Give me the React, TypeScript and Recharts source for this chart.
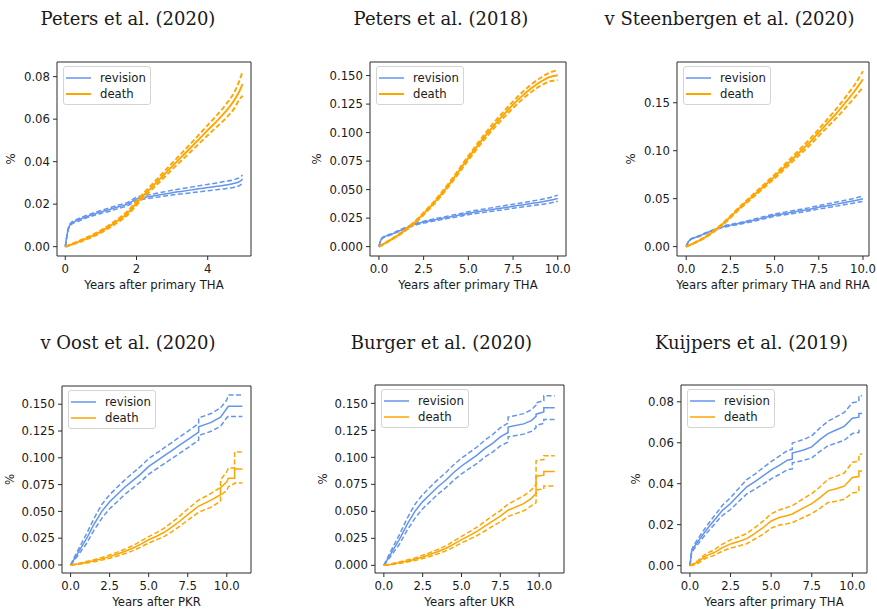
import React from "react";
import { LineChart, Line, XAxis, YAxis, Legend, ReferenceLine } from "recharts";

// ---- Peters et al. (2020) ----
const P1_X = [0, 0.05, 0.1, 0.2, 0.3, 0.5, 0.75, 1, 1.25, 1.5, 1.75, 2, 2.25, 2.5, 2.75, 3, 3.25, 3.5, 3.75, 4, 4.25, 4.5, 4.75, 4.9, 4.98];
const P1_REV = [0, 0.0055, 0.0092, 0.0113, 0.0121, 0.0135, 0.015, 0.0163, 0.0175, 0.0188, 0.02, 0.0225, 0.0233, 0.024, 0.0247, 0.0254, 0.026, 0.0266, 0.0272, 0.0278, 0.0284, 0.029, 0.0298, 0.0307, 0.0318];
const P1_REV_HI = [0, 0.0058, 0.0096, 0.0118, 0.0127, 0.0141, 0.0156, 0.017, 0.0183, 0.0196, 0.0208, 0.0233, 0.0241, 0.0249, 0.0257, 0.0265, 0.0272, 0.0279, 0.0286, 0.0293, 0.03, 0.0307, 0.0316, 0.0326, 0.0337];
const P1_REV_LO = [0, 0.0052, 0.0088, 0.0108, 0.0115, 0.0129, 0.0144, 0.0156, 0.0167, 0.018, 0.0192, 0.0217, 0.0225, 0.0231, 0.0237, 0.0243, 0.0248, 0.0253, 0.0258, 0.0263, 0.0268, 0.0273, 0.028, 0.0288, 0.0299];
const P1_DEATH = [0, 0.0003, 0.0006, 0.0012, 0.0018, 0.0032, 0.005, 0.0071, 0.0097, 0.0125, 0.0158, 0.0205, 0.025, 0.0292, 0.0335, 0.0378, 0.042, 0.0462, 0.0505, 0.0548, 0.059, 0.0635, 0.069, 0.0735, 0.0765];
const P1_DEATH_HI = [0, 0.0004, 0.0007, 0.0014, 0.0021, 0.0036, 0.0055, 0.0077, 0.0104, 0.0133, 0.0167, 0.0215, 0.0261, 0.0304, 0.0349, 0.0393, 0.0437, 0.0481, 0.0526, 0.0572, 0.0617, 0.0667, 0.0728, 0.0785, 0.0825];
const P1_DEATH_LO = [0, 0.0002, 0.0005, 0.001, 0.0015, 0.0028, 0.0045, 0.0065, 0.009, 0.0117, 0.0149, 0.0195, 0.0239, 0.028, 0.0321, 0.0363, 0.0403, 0.0443, 0.0484, 0.0524, 0.0563, 0.0603, 0.0652, 0.0695, 0.071];

// ---- Peters et al. (2018) ----
const P2_X = [0, 0.1, 0.25, 0.5, 0.75, 1, 1.5, 2, 2.5, 3, 3.5, 4, 4.5, 5, 5.5, 6, 6.5, 7, 7.5, 8, 8.5, 9, 9.5, 10];
const P2_REV = [0, 0.0055, 0.0082, 0.0098, 0.0112, 0.013, 0.0163, 0.0195, 0.0215, 0.0232, 0.0247, 0.0262, 0.0277, 0.0293, 0.0306, 0.0318, 0.033, 0.0342, 0.0354, 0.0366, 0.0378, 0.039, 0.0404, 0.0422];
const P2_REV_HI = [0, 0.0058, 0.0086, 0.0102, 0.0117, 0.0135, 0.0169, 0.0202, 0.0223, 0.0241, 0.0257, 0.0273, 0.0289, 0.0306, 0.032, 0.0333, 0.0346, 0.0359, 0.0372, 0.0385, 0.0398, 0.0412, 0.0428, 0.0452];
const P2_REV_LO = [0, 0.0052, 0.0078, 0.0094, 0.0107, 0.0125, 0.0157, 0.0188, 0.0207, 0.0223, 0.0237, 0.0251, 0.0265, 0.028, 0.0292, 0.0303, 0.0314, 0.0325, 0.0336, 0.0347, 0.0358, 0.0368, 0.038, 0.0398];
const P2_DEATH = [0, 0.0008, 0.0022, 0.0045, 0.0068, 0.0092, 0.0148, 0.0212, 0.029, 0.037, 0.0462, 0.0562, 0.0668, 0.0778, 0.0882, 0.0982, 0.1075, 0.1162, 0.1245, 0.132, 0.1387, 0.1442, 0.1485, 0.1503];
const P2_DEATH_HI = [0, 0.0009, 0.0024, 0.0048, 0.0072, 0.0097, 0.0155, 0.0221, 0.03, 0.0382, 0.0476, 0.0577, 0.0685, 0.0797, 0.0903, 0.1005, 0.11, 0.1189, 0.1274, 0.1351, 0.142, 0.1477, 0.1523, 0.1547];
const P2_DEATH_LO = [0, 0.0007, 0.002, 0.0042, 0.0064, 0.0087, 0.0141, 0.0203, 0.028, 0.0358, 0.0448, 0.0547, 0.0651, 0.0759, 0.0861, 0.0959, 0.105, 0.1135, 0.1216, 0.1289, 0.1354, 0.1407, 0.1447, 0.146];

// ---- v Steenbergen et al. (2020) ----
const P3_X = [0, 0.1, 0.25, 0.5, 0.75, 1, 1.5, 2, 2.5, 3, 3.5, 4, 4.5, 5, 5.5, 6, 6.5, 7, 7.5, 8, 8.5, 9, 9.5, 10];
const P3_REV = [0, 0.0045, 0.0075, 0.0095, 0.011, 0.0132, 0.0168, 0.0203, 0.0224, 0.0241, 0.0261, 0.0283, 0.0306, 0.0328, 0.0343, 0.0358, 0.0374, 0.039, 0.041, 0.0426, 0.0443, 0.0461, 0.0479, 0.05];
const P3_REV_HI = [0, 0.0047, 0.0078, 0.0099, 0.0114, 0.0137, 0.0174, 0.021, 0.0232, 0.025, 0.0271, 0.0294, 0.0318, 0.0341, 0.0357, 0.0373, 0.039, 0.0407, 0.0428, 0.0446, 0.0464, 0.0483, 0.0503, 0.0528];
const P3_REV_LO = [0, 0.0043, 0.0072, 0.0091, 0.0106, 0.0127, 0.0162, 0.0196, 0.0216, 0.0232, 0.0251, 0.0272, 0.0294, 0.0315, 0.0329, 0.0343, 0.0358, 0.0373, 0.0392, 0.0406, 0.0422, 0.0439, 0.0455, 0.0472];
const P3_DEATH = [0, 0.0008, 0.002, 0.0042, 0.0065, 0.009, 0.0152, 0.0225, 0.031, 0.04, 0.0482, 0.0565, 0.0648, 0.073, 0.082, 0.091, 0.1, 0.109, 0.119, 0.129, 0.139, 0.15, 0.1615, 0.1745];
const P3_DEATH_HI = [0, 0.0009, 0.0022, 0.0045, 0.0069, 0.0095, 0.0159, 0.0234, 0.032, 0.0412, 0.0496, 0.0581, 0.0666, 0.075, 0.0843, 0.0936, 0.1029, 0.1122, 0.1226, 0.1331, 0.1438, 0.1556, 0.1679, 0.183];
const P3_DEATH_LO = [0, 0.0007, 0.0018, 0.0039, 0.0061, 0.0085, 0.0145, 0.0216, 0.03, 0.0388, 0.0468, 0.0549, 0.063, 0.071, 0.0797, 0.0884, 0.0971, 0.1058, 0.1154, 0.1249, 0.1342, 0.1444, 0.1551, 0.1662];

// ---- v Oost et al. (2020) ---- (repeated x = a visible jump in the curve)
const P4_X = [0, 0.25, 0.5, 0.75, 1, 1.25, 1.5, 1.75, 2, 2.5, 3, 3.5, 4, 4.5, 5, 5.5, 6, 6.5, 7, 7.5, 8.2, 8.2, 9, 9.6, 9.6, 10, 10.1, 10.5, 10.5, 11];
const P4_REV = [0, 0.006, 0.012, 0.018, 0.024, 0.031, 0.038, 0.044, 0.05, 0.059, 0.066, 0.073, 0.079, 0.085, 0.092, 0.097, 0.102, 0.107, 0.112, 0.117, 0.124, 0.129, 0.133, 0.138, 0.138, 0.146, 0.148, 0.148, 0.148, 0.148];
const P4_REV_HI = [0, 0.0075, 0.0145, 0.0215, 0.0285, 0.036, 0.0435, 0.05, 0.0565, 0.0655, 0.0728, 0.0798, 0.086, 0.0922, 0.0992, 0.1043, 0.1094, 0.1145, 0.1196, 0.1247, 0.132, 0.1372, 0.1413, 0.1466, 0.1466, 0.154, 0.1585, 0.1585, 0.1585, 0.1585];
const P4_REV_LO = [0, 0.0045, 0.0095, 0.0145, 0.0195, 0.026, 0.0325, 0.038, 0.0435, 0.0525, 0.0592, 0.0662, 0.072, 0.0778, 0.0848, 0.0897, 0.0946, 0.0995, 0.1044, 0.1093, 0.1165, 0.1208, 0.1247, 0.1294, 0.1294, 0.1375, 0.1385, 0.1385, 0.1385, 0.1385];
const P4_DEATH = [0, 0.0005, 0.001, 0.0017, 0.0025, 0.0032, 0.004, 0.0048, 0.0057, 0.0078, 0.0102, 0.0128, 0.0158, 0.0195, 0.0235, 0.0268, 0.0305, 0.0355, 0.041, 0.047, 0.055, 0.055, 0.0605, 0.0655, 0.072, 0.0775, 0.081, 0.081, 0.0895, 0.0895];
const P4_DEATH_HI = [0, 0.0007, 0.0014, 0.0023, 0.0032, 0.004, 0.005, 0.0059, 0.0069, 0.0093, 0.012, 0.0149, 0.0182, 0.0222, 0.0265, 0.0302, 0.0344, 0.0398, 0.0458, 0.0522, 0.0605, 0.0605, 0.0668, 0.0725, 0.0795, 0.087, 0.0905, 0.0905, 0.1055, 0.1055];
const P4_DEATH_LO = [0, 0.0003, 0.0007, 0.0012, 0.0018, 0.0024, 0.0031, 0.0037, 0.0045, 0.0063, 0.0084, 0.0107, 0.0134, 0.0168, 0.0205, 0.0235, 0.0267, 0.0312, 0.0363, 0.0418, 0.0492, 0.0492, 0.054, 0.0595, 0.065, 0.0695, 0.073, 0.076, 0.0765, 0.0765];

// ---- Burger et al. (2020) ----
const P5_X = [0, 0.25, 0.5, 0.75, 1, 1.25, 1.5, 1.75, 2, 2.5, 3, 3.5, 4, 4.5, 5, 5.5, 6, 6.5, 7, 7.5, 8, 8, 9, 9.5, 9.8, 9.8, 10.3, 10.3, 11];
const P5_REV = [0, 0.006, 0.012, 0.018, 0.024, 0.031, 0.038, 0.044, 0.05, 0.059, 0.066, 0.073, 0.079, 0.086, 0.092, 0.097, 0.102, 0.108, 0.113, 0.119, 0.123, 0.128, 0.131, 0.134, 0.138, 0.14, 0.142, 0.146, 0.146];
const P5_REV_HI = [0, 0.0075, 0.0145, 0.0215, 0.0285, 0.036, 0.0435, 0.05, 0.0565, 0.0655, 0.0728, 0.0798, 0.086, 0.0932, 0.0992, 0.1044, 0.1096, 0.1158, 0.1211, 0.1274, 0.1318, 0.1372, 0.1405, 0.144, 0.1485, 0.1505, 0.1525, 0.157, 0.157];
const P5_REV_LO = [0, 0.0045, 0.0095, 0.0145, 0.0195, 0.026, 0.0325, 0.038, 0.0435, 0.0525, 0.0592, 0.0662, 0.072, 0.0788, 0.0848, 0.0896, 0.0944, 0.1002, 0.1049, 0.1106, 0.1142, 0.119, 0.1215, 0.124, 0.1275, 0.1295, 0.1315, 0.135, 0.135];
const P5_DEATH = [0, 0.0005, 0.001, 0.0017, 0.0025, 0.0032, 0.004, 0.0048, 0.0057, 0.0078, 0.0102, 0.0128, 0.0158, 0.0196, 0.0238, 0.0275, 0.0315, 0.0362, 0.041, 0.0455, 0.051, 0.051, 0.0572, 0.062, 0.0665, 0.0826, 0.0835, 0.087, 0.087];
const P5_DEATH_HI = [0, 0.0007, 0.0014, 0.0023, 0.0032, 0.004, 0.005, 0.0059, 0.0069, 0.0093, 0.012, 0.0149, 0.0182, 0.0223, 0.0268, 0.031, 0.0354, 0.0406, 0.0458, 0.0507, 0.0567, 0.0567, 0.0643, 0.0698, 0.075, 0.097, 0.098, 0.1015, 0.1015];
const P5_DEATH_LO = [0, 0.0003, 0.0007, 0.0012, 0.0018, 0.0024, 0.0031, 0.0037, 0.0045, 0.0063, 0.0084, 0.0107, 0.0134, 0.0169, 0.0208, 0.024, 0.0276, 0.0318, 0.0362, 0.0403, 0.0453, 0.0453, 0.0505, 0.055, 0.058, 0.07, 0.0705, 0.0735, 0.0735];

// ---- Kuijpers et al. (2019) ----
const P6_X = [0, 0.1, 0.25, 0.5, 0.75, 1, 1.25, 1.5, 1.75, 2, 2.5, 3, 3.5, 4, 4.5, 5, 5.5, 6, 6.3, 6.3, 7, 7.5, 8, 8.5, 9, 9.5, 10, 10.4, 10.4, 10.6];
const P6_REV = [0, 0.0068, 0.0091, 0.0118, 0.0146, 0.0173, 0.0198, 0.0222, 0.0246, 0.027, 0.0303, 0.0345, 0.0385, 0.041, 0.0438, 0.0466, 0.049, 0.0515, 0.052, 0.055, 0.0565, 0.058, 0.0615, 0.0645, 0.0662, 0.068, 0.072, 0.0725, 0.0743, 0.0743];
const P6_REV_HI = [0, 0.0075, 0.0101, 0.0131, 0.0161, 0.019, 0.0217, 0.0243, 0.0268, 0.0295, 0.0332, 0.0377, 0.042, 0.0447, 0.0478, 0.0508, 0.0535, 0.0562, 0.0568, 0.0598, 0.0616, 0.0634, 0.0672, 0.0705, 0.0726, 0.0748, 0.0795, 0.08, 0.083, 0.083];
const P6_REV_LO = [0, 0.0061, 0.0081, 0.0105, 0.0131, 0.0156, 0.0179, 0.0201, 0.0224, 0.0245, 0.0274, 0.0313, 0.035, 0.0373, 0.0398, 0.0424, 0.0445, 0.0468, 0.0472, 0.0502, 0.0514, 0.0526, 0.0558, 0.0585, 0.0598, 0.0612, 0.0645, 0.065, 0.066, 0.066];
const P6_DEATH = [0, 0.0003, 0.0008, 0.0018, 0.0034, 0.0048, 0.0056, 0.0064, 0.0076, 0.0088, 0.0106, 0.0118, 0.0132, 0.0158, 0.0185, 0.0218, 0.0235, 0.0245, 0.0252, 0.0252, 0.0282, 0.0303, 0.0332, 0.0365, 0.0375, 0.0388, 0.043, 0.0435, 0.0462, 0.0462];
const P6_DEATH_HI = [0, 0.0005, 0.0012, 0.0025, 0.0043, 0.0059, 0.0068, 0.0078, 0.0091, 0.0105, 0.0126, 0.014, 0.0157, 0.0186, 0.0217, 0.0253, 0.0272, 0.0285, 0.0293, 0.0293, 0.0328, 0.0352, 0.0384, 0.0422, 0.0436, 0.0452, 0.0505, 0.051, 0.0545, 0.0545];
const P6_DEATH_LO = [0, 0.0001, 0.0004, 0.0011, 0.0025, 0.0037, 0.0044, 0.005, 0.0061, 0.0071, 0.0086, 0.0096, 0.0107, 0.013, 0.0153, 0.0183, 0.0198, 0.0205, 0.021, 0.021, 0.0236, 0.0254, 0.028, 0.0308, 0.0314, 0.0324, 0.0355, 0.036, 0.0385, 0.0385];

// tick values
const X_TICKS_5 = [0, 2, 4];
const X_TICKS_10 = [0, 2.5, 5, 7.5, 10];
const Y_TICKS_08 = [0, 0.02, 0.04, 0.06, 0.08];
const Y_TICKS_15 = [0, 0.025, 0.05, 0.075, 0.1, 0.125, 0.15];
const Y_TICKS_15B = [0, 0.05, 0.1, 0.15];

const SERIES = [
  { key: "rev", label: "revision", color: "#6495ED" },
  { key: "death", label: "death", color: "#FFA500" },
];

const SANS = "DejaVu Sans";
const INK = "#1a1a1a";
const FRAME = "#2b2b2b";

type Panel = {
  title: string;
  titleX: number;
  xLabel: string;
  x: number[];
  rev: number[];
  revLo: number[];
  revHi: number[];
  death: number[];
  deathLo: number[];
  deathHi: number[];
  smooth: boolean;
  frame: { l: number; r: number; t: number; b: number };
  yLabelGap: number;
  xDomain: [number, number];
  yDomain: [number, number];
  xTicks: number[];
  yTicks: number[];
  xDec: number;
  yDec: number;
};

const PANELS: Panel[] = [
  {
    title: "Peters et al. (2020)", titleX: 128, xLabel: "Years after primary THA",
    x: P1_X, rev: P1_REV, revLo: P1_REV_LO, revHi: P1_REV_HI, death: P1_DEATH, deathLo: P1_DEATH_LO, deathHi: P1_DEATH_HI,
    smooth: true, frame: { l: 57, r: 251, t: 62, b: 256 }, yLabelGap: 46,
    xDomain: [-0.233, 5.216], yDomain: [-0.0044, 0.0869], xTicks: X_TICKS_5, yTicks: Y_TICKS_08, xDec: 0, yDec: 2,
  },
  {
    title: "Peters et al. (2018)", titleX: 441, xLabel: "Years after primary THA",
    x: P2_X, rev: P2_REV, revLo: P2_REV_LO, revHi: P2_REV_HI, death: P2_DEATH, deathLo: P2_DEATH_LO, deathHi: P2_DEATH_HI,
    smooth: true, frame: { l: 370, r: 566, t: 62, b: 256 }, yLabelGap: 53,
    xDomain: [-0.5, 10.46], yDomain: [-0.0082, 0.1619], xTicks: X_TICKS_10, yTicks: Y_TICKS_15, xDec: 1, yDec: 3,
  },
  {
    title: "v Steenbergen et al. (2020)", titleX: 729.5, xLabel: "Years after primary THA and RHA",
    x: P3_X, rev: P3_REV, revLo: P3_REV_LO, revHi: P3_REV_HI, death: P3_DEATH, deathLo: P3_DEATH_LO, deathHi: P3_DEATH_HI,
    smooth: true, frame: { l: 677, r: 869, t: 62, b: 256 }, yLabelGap: 46,
    xDomain: [-0.52, 10.34], yDomain: [-0.0098, 0.1925], xTicks: X_TICKS_10, yTicks: Y_TICKS_15B, xDec: 1, yDec: 2,
  },
  {
    title: "v Oost et al. (2020)", titleX: 128, xLabel: "Years after PKR",
    x: P4_X, rev: P4_REV, revLo: P4_REV_LO, revHi: P4_REV_HI, death: P4_DEATH, deathLo: P4_DEATH_LO, deathHi: P4_DEATH_HI,
    smooth: false, frame: { l: 62, r: 251, t: 386, b: 573 }, yLabelGap: 52,
    xDomain: [-0.55, 11.55], yDomain: [-0.0075, 0.167], xTicks: X_TICKS_10, yTicks: Y_TICKS_15, xDec: 1, yDec: 3,
  },
  {
    title: "Burger et al. (2020)", titleX: 441.5, xLabel: "Years after UKR",
    x: P5_X, rev: P5_REV, revLo: P5_REV_LO, revHi: P5_REV_HI, death: P5_DEATH, deathLo: P5_DEATH_LO, deathHi: P5_DEATH_HI,
    smooth: false, frame: { l: 375, r: 564, t: 385, b: 573 }, yLabelGap: 52,
    xDomain: [-0.57, 11.6], yDomain: [-0.0071, 0.167], xTicks: X_TICKS_10, yTicks: Y_TICKS_15, xDec: 1, yDec: 3,
  },
  {
    title: "Kuijpers et al. (2019)", titleX: 751.5, xLabel: "Years after primary THA",
    x: P6_X, rev: P6_REV, revLo: P6_REV_LO, revHi: P6_REV_HI, death: P6_DEATH, deathLo: P6_DEATH_LO, deathHi: P6_DEATH_HI,
    smooth: false, frame: { l: 681, r: 867, t: 385, b: 573 }, yLabelGap: 45,
    xDomain: [-0.55, 10.9], yDomain: [-0.0036, 0.0882], xTicks: X_TICKS_10, yTicks: Y_TICKS_08, xDec: 1, yDec: 2,
  },
];

const YW = 60; // left axis width
const XH = 40; // bottom axis height
const PT = 5; // top margin
const PR = 16; // right margin (room for the last tick label)

const tickStyle = { fontSize: 11.7, fontFamily: SANS, fill: INK };

const LegendBox = ({ thickDeath }: { thickDeath: boolean }) => (
  <div
    style={{
      width: 88,
      height: 39,
      boxSizing: "border-box",
      border: "1px solid #d4d4d4",
      borderRadius: 3,
      background: "rgba(255,255,255,0.85)",
      padding: "3px 0 0 2px",
      fontFamily: SANS,
      fontSize: 11.7,
      color: INK,
    }}
  >
    {SERIES.map((s) => (
      <div key={s.key} style={{ display: "flex", alignItems: "center", height: 16 }}>
        <svg width={25} height={16} style={{ display: "block" }}>
          <line x1={0} x2={25} y1={8} y2={8} stroke={s.color} strokeWidth={s.key === "death" && thickDeath ? 2 : 1.5} />
        </svg>
        <span style={{ marginLeft: 9.5, lineHeight: "16px" }}>{s.label}</span>
      </div>
    ))}
  </div>
);

const PanelChart = ({ p }: { p: Panel }) => {
  const data = p.x.map((x, i) => ({
    x,
    rev: p.rev[i],
    revLo: p.revLo[i],
    revHi: p.revHi[i],
    death: p.death[i],
    deathLo: p.deathLo[i],
    deathHi: p.deathHi[i],
  }));
  const w = p.frame.r - p.frame.l + YW + PR;
  const h = p.frame.b - p.frame.t + XH + PT;
  const curve = p.smooth ? "monotone" : "linear";
  const revW = 1.5;
  const deathW = p.smooth ? 1.9 : 1.5;
  const dash = "5 2.5";

  return (
    <div style={{ position: "absolute", left: p.frame.l - YW, top: p.frame.t - PT }}>
      <LineChart width={w} height={h} data={data} margin={{ top: PT, right: PR, left: 0, bottom: 0 }}>
        <XAxis
          dataKey="x"
          type="number"
          domain={p.xDomain}
          allowDataOverflow
          ticks={p.xTicks}
          tickFormatter={(v: number) => v.toFixed(p.xDec)}
          height={XH}
          tick={tickStyle}
          tickSize={4}
          tickMargin={5}
          stroke={FRAME}
          label={{ value: p.xLabel, position: "insideBottom", offset: 7, style: { ...tickStyle, textAnchor: "middle" } }}
        />
        <YAxis
          type="number"
          domain={p.yDomain}
          allowDataOverflow
          ticks={p.yTicks}
          tickFormatter={(v: number) => v.toFixed(p.yDec)}
          width={YW}
          tick={tickStyle}
          tickSize={4}
          tickMargin={3}
          stroke={FRAME}
          label={{ value: "%", angle: -90, position: "insideLeft", offset: YW - p.yLabelGap, style: { ...tickStyle, textAnchor: "middle" } }}
        />
        <ReferenceLine y={p.yDomain[1]} stroke={FRAME} ifOverflow="visible" />
        <ReferenceLine x={p.xDomain[1]} stroke={FRAME} ifOverflow="visible" />
        <Legend
          layout="vertical"
          align="center"
          verticalAlign="middle"
          wrapperStyle={{ left: YW + 5.5, top: PT + 3.5, width: 88, height: 39 }}
          content={() => <LegendBox thickDeath={p.smooth} />}
        />
        <Line dataKey="rev" name="revision" type={curve} stroke={SERIES[0].color} strokeWidth={revW} dot={false} isAnimationActive={false} />
        <Line dataKey="revLo" type={curve} stroke={SERIES[0].color} strokeWidth={revW} strokeDasharray={dash} dot={false} legendType="none" isAnimationActive={false} />
        <Line dataKey="revHi" type={curve} stroke={SERIES[0].color} strokeWidth={revW} strokeDasharray={dash} dot={false} legendType="none" isAnimationActive={false} />
        <Line dataKey="death" name="death" type={curve} stroke={SERIES[1].color} strokeWidth={deathW} dot={false} isAnimationActive={false} />
        <Line dataKey="deathLo" type={curve} stroke={SERIES[1].color} strokeWidth={deathW} strokeDasharray={dash} dot={false} legendType="none" isAnimationActive={false} />
        <Line dataKey="deathHi" type={curve} stroke={SERIES[1].color} strokeWidth={deathW} strokeDasharray={dash} dot={false} legendType="none" isAnimationActive={false} />
      </LineChart>
    </div>
  );
};

export default function App() {
  return (
    <div style={{ position: "absolute", left: 0, top: 0, width: 877, height: 609, background: "#fff", overflow: "hidden" }}>
      {PANELS.map((p, i) => (
        <div
          key={"t" + i}
          style={{
            position: "absolute",
            left: p.titleX - 160,
            width: 320,
            top: i < 3 ? 10 : 334,
            textAlign: "center",
            fontFamily: "DejaVu Serif",
            fontSize: 18,
            lineHeight: "18px",
            color: INK,
            whiteSpace: "nowrap",
          }}
        >
          {p.title}
        </div>
      ))}
      {PANELS.map((p, i) => (
        <PanelChart key={i} p={p} />
      ))}
    </div>
  );
}
